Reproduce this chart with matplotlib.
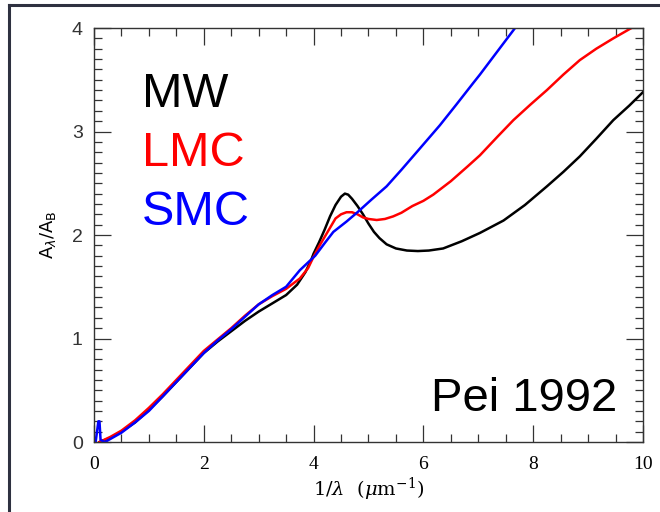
import matplotlib
matplotlib.use('Agg')
import matplotlib.pyplot as plt
from matplotlib.lines import Line2D
from matplotlib.ticker import MultipleLocator

# Pei (1992) extinction curves, A_lambda / A_B vs inverse wavelength
mw_x = [0.1, 0.3, 0.5, 0.75, 1.0, 1.25, 1.5, 1.75, 2.0, 2.25, 2.5, 2.75, 3.0,
        3.25, 3.5, 3.7, 3.85, 3.95, 4.0, 4.1, 4.2, 4.3, 4.4, 4.5, 4.57, 4.63,
        4.7, 4.8, 4.9, 5.0, 5.1, 5.2, 5.33, 5.5, 5.7, 5.9, 6.1, 6.36, 6.7,
        7.03, 7.46, 7.85, 8.25, 8.55, 8.85, 9.15, 9.46, 9.75, 10.0]
mw_y = [0.0, 0.04, 0.1, 0.19, 0.31, 0.44, 0.58, 0.72, 0.86, 0.97, 1.07, 1.17,
        1.26, 1.34, 1.42, 1.52, 1.64, 1.75, 1.82, 1.93, 2.05, 2.18, 2.29, 2.37,
        2.40, 2.39, 2.35, 2.28, 2.20, 2.11, 2.03, 1.97, 1.91, 1.87, 1.85,
        1.845, 1.85, 1.87, 1.94, 2.02, 2.14, 2.29, 2.47, 2.61, 2.76, 2.93,
        3.11, 3.25, 3.38]

lmc_x = [0.1, 0.3, 0.5, 0.75, 1.0, 1.25, 1.5, 1.75, 2.0, 2.25, 2.5, 2.75, 3.0,
         3.25, 3.5, 3.75, 3.9, 4.0, 4.1, 4.2, 4.3, 4.4, 4.5, 4.6, 4.7, 4.8,
         4.9, 5.0, 5.15, 5.3, 5.45, 5.6, 5.8, 6.0, 6.18, 6.5, 6.8, 7.03, 7.35,
         7.64, 7.95, 8.25, 8.55, 8.85, 9.15, 9.46, 9.79, 10.0]
lmc_y = [0.0, 0.05, 0.11, 0.21, 0.33, 0.46, 0.60, 0.74, 0.88, 0.99, 1.10,
         1.22, 1.33, 1.41, 1.48, 1.58, 1.68, 1.79, 1.89, 1.98, 2.07, 2.16,
         2.20, 2.22, 2.22, 2.20, 2.17, 2.155, 2.145, 2.155, 2.18, 2.215, 2.28,
         2.33, 2.39, 2.52, 2.66, 2.77, 2.95, 3.11, 3.26, 3.40, 3.55, 3.69,
         3.80, 3.90, 4.0, 4.06]

smc_x = [0.03, 0.08, 0.1, 0.12, 0.2, 0.3, 0.5, 0.75, 1.0, 1.25, 1.5, 1.75,
         2.0, 2.25, 2.5, 2.75, 3.0, 3.25, 3.5, 3.75, 4.03, 4.2, 4.36, 4.6,
         4.81, 5.05, 5.33, 5.6, 5.91, 6.3, 6.6, 6.91, 7.03, 7.3, 7.67, 7.8]
smc_y = [0.0, 0.2, 0.2, 0.02, 0.0, 0.03, 0.09, 0.19, 0.30, 0.44, 0.58, 0.72,
         0.86, 0.98, 1.09, 1.21, 1.33, 1.42, 1.50, 1.66, 1.80, 1.92, 2.03,
         2.13, 2.225, 2.34, 2.47, 2.63, 2.82, 3.06, 3.26, 3.47, 3.55, 3.74,
         4.0, 4.09]

names = ['MW', 'LMC', 'SMC']
colors = ['black', '#ff0000', '#0000ff']

fig = plt.figure(figsize=(6.6, 5.12), dpi=100)
ax = fig.add_axes([0.1424, 0.1367, 0.8318, 0.8086])

ax.plot(mw_x, mw_y, color=colors[0], lw=1.8)
ax.plot(lmc_x, lmc_y, color=colors[1], lw=1.8)
ax.plot(smc_x, smc_y, color=colors[2], lw=1.8)

ax.set_xlim(0, 10)
ax.set_ylim(0, 4)
ax.xaxis.set_major_locator(MultipleLocator(2))
ax.xaxis.set_minor_locator(MultipleLocator(0.5))
ax.yaxis.set_major_locator(MultipleLocator(1))
ax.yaxis.set_minor_locator(MultipleLocator(0.1))
ax.tick_params(which='both', direction='in', top=True, right=True,
               color='#333333', width=0.9)
ax.tick_params(which='major', length=12)
ax.tick_params(which='minor', length=6)
ax.tick_params(axis='x', pad=10, labelsize=14)
ax.tick_params(axis='y', pad=8, labelsize=14)
for lab in ax.get_xticklabels():
    lab.set_family('Liberation Serif')
for lab in ax.get_yticklabels():
    lab.set_family('Liberation Sans')
    lab.set_color('#333333')
for sp in ax.spines.values():
    sp.set_color('#333333')
    sp.set_linewidth(1.0)

ax.set_xlabel(r'$1/\lambda\ \ (\mu{\rm m}^{-1})$', fontsize=14, labelpad=2,
              math_fontfamily='dejavuserif')
ax.set_ylabel(r'${\rm A}_\lambda/{\rm A}_{\rm B}$', fontsize=13, labelpad=10,
              math_fontfamily='dejavusans')

for i, (name, col) in enumerate(zip(names, colors)):
    ax.text(0.088, 0.84 - i * 0.143, name, color=col, fontsize=35,
            family='Liberation Sans', transform=ax.transAxes, va='center')
ax.text(0.614, 0.105, 'Pei 1992', color='black', fontsize=34,
        family='Liberation Sans', transform=ax.transAxes, va='center')

# frame lines along the left and top of the canvas
fig.add_artist(Line2D([0.0136, 0.0136], [0, 0.99], color='#2e3140', lw=2.2,
                      transform=fig.transFigure))
fig.add_artist(Line2D([0.0136, 1.0], [0.99, 0.99], color='#2e3140', lw=2.2,
                      transform=fig.transFigure))

fig.savefig('out.png', dpi=100)
plt.close(fig)
